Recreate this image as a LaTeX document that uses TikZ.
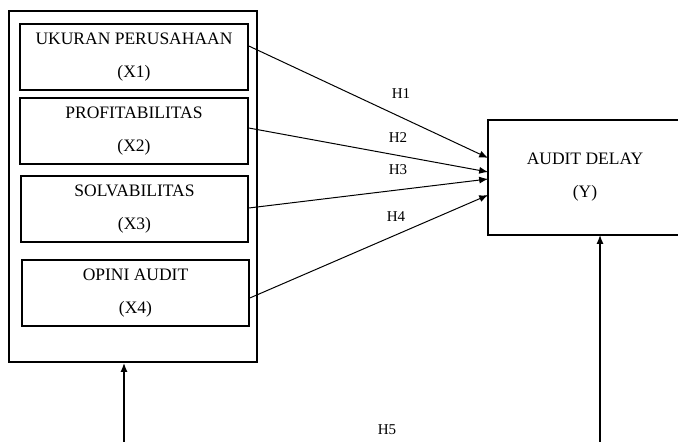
\documentclass[tikz,border=0pt]{standalone}
\usepackage{fontspec}
\setmainfont{Liberation Serif}
\usetikzlibrary{arrows.meta}

\tikzset{
  varbox/.style={draw, line width=1.6pt, minimum width=228pt, minimum height=66pt,
    align=center, inner sep=0pt, font=\fontsize{17.5}{33}\selectfont},
  hyp/.style={font=\fontsize{15}{17}\selectfont},
  link/.style={-{Latex[length=9pt,width=7pt]}, line width=1pt}
}

\begin{document}
\begin{tikzpicture}[x=1pt,y=-1pt]

  \useasboundingbox (0,0) rectangle (678,442);

% Variables
  \node[draw, line width=1.6pt, minimum width=248pt, minimum height=351pt] (outer) at (133,186.5) {};

  \node[varbox] (x1) at (134,57)    {UKURAN PERUSAHAAN\\(X1)};
  \node[varbox] (x2) at (134,131)   {PROFITABILITAS\\(X2)};
  \node[varbox, minimum width=227pt] (x3) at (134.5,209) {SOLVABILITAS\\(X3)};
  \node[varbox, minimum width=227pt] (x4) at (135.5,293) {OPINI AUDIT\\(X4)};

  % box of Y is cut off at the right edge
  \node[varbox, draw=none, minimum width=192pt, minimum height=113pt] (y) at (585,177.5) {AUDIT DELAY\\(Y)};
  \draw[line width=1.6pt] (y.north east) -- (y.north west) -- (y.south west) -- (y.south east);

% Hypotheses
  \draw[link] ([yshift=11pt]x1.east) -- ([yshift=19.5pt]y.west);
  \draw[link] ([yshift=3pt]x2.east)  -- ([yshift=5.5pt]y.west);
  \draw[link] ([yshift=1pt]x3.east)  -- ([yshift=-1.5pt]y.west);
  \draw[link] ([yshift=-5pt]x4.east) -- ([yshift=-17.5pt]y.west);

  \node[hyp] (h1) at (401,94)  {H1};
  \node[hyp] (h2) at (398,138) {H2};
  \node[hyp] (h3) at (398,170) {H3};
  \node[hyp] (h4) at (396,217) {H4};
  \node[hyp] (h5) at (387,430) {H5};

  \coordinate (bl) at (124,445);
  \coordinate (br) at (600,445);
  \draw[link, line width=1.6pt] (bl) -- (bl |- outer.south);
  \draw[link, line width=1.6pt] (br) -- (br |- y.south);

\end{tikzpicture}
\end{document}
